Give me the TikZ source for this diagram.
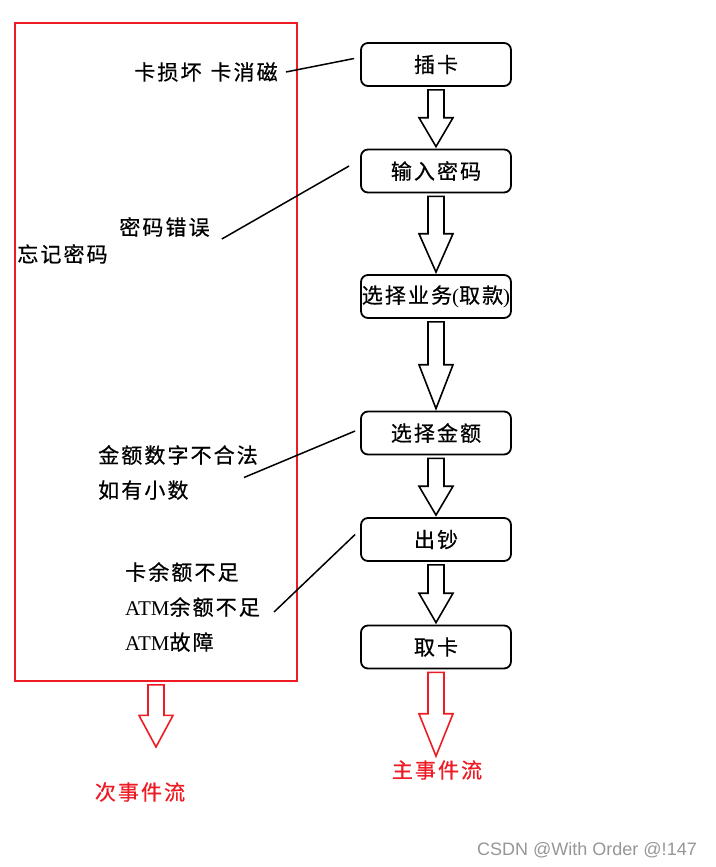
\documentclass[tikz,border=0pt]{standalone}
\usepackage{fontspec}
\setmainfont{Liberation Serif}
\newfontfamily\cjk[LetterSpace=10, FakeBold=0.6]{Noto Sans CJK SC}
\newfontfamily\wmfont{Liberation Sans}
\usetikzlibrary{calc}
\definecolor{flowred}{RGB}{237,28,36}
\definecolor{wmgray}{RGB}{150,150,150}

\begin{document}
\begin{tikzpicture}[x=1pt, y=1pt, node distance=106pt,
  stepbox/.style={rectangle, draw, rounded corners=7pt, line width=1.8pt, minimum width=150pt, minimum height=43pt, font=\cjk\fontsize{21}{24}\selectfont},
  note/.style={inner sep=2pt, font=\cjk\fontsize{21}{35}\selectfont, align=left},
  hollow/.style={line width=1.6pt, line join=miter, to path={let \p1=(\tikztostart), \p2=(\tikztotarget), \n1={(\y1-\y2)/2} in
    (\x1-8pt,\y1-3pt) -- (\x1-8pt,\y1-\n1) -- (\x1-17pt,\y1-\n1) -- (\x1,\y2+2pt) -- (\x1+17pt,\y1-\n1) -- (\x1+8pt,\y1-\n1) -- (\x1+8pt,\y1-3pt) -- cycle}},
  link/.style={line width=1.5pt}]

    \useasboundingbox (0,0) rectangle (715,-867);

    \node[draw=flowred, line width=1.6pt, minimum width=282pt, minimum height=658pt, inner sep=0] (alt) at (156,-352) {};

    \node[stepbox] (ins) at (436,-64.5) {插卡};
    \node[stepbox, below of=ins, node distance=106.5pt] (pin) {输入密码};
    \node[stepbox, below of=pin, node distance=125.5pt] (biz) {\makebox[0pt]{选择业务{\rmfamily(}取款{\rmfamily)}}};
    \node[stepbox, below of=biz, node distance=136.5pt] (amt) {选择金额};
    \node[stepbox, below of=amt, node distance=106.5pt] (cash) {出钞};
    \node[stepbox, below of=cash, node distance=107.5pt] (ret) {取卡};

    \node[note] (damage) at (206,-72) {卡损坏\hspace{9pt}卡消磁};
    \node[note] (wrongpin) at (164.5,-227) {密码错误};
    \node[note] (forgot) at (62.5,-254) {忘记密码};
    \node[note, anchor=west] (badamt) at (96,-472.5) {金额数字不合法\\如有小数};
    \node[note, anchor=west] (nocash) at (123,-607) {卡余额不足\\{\rmfamily ATM}余额不足\\{\rmfamily ATM}故障};

    \node[note, text=flowred] (altlbl) at (140,-792) {次事件流};
    \node[note, text=flowred] (mainlbl) at (437,-770) {主事件流};
    \coordinate (alttip) at (158,-749);

    \node[text=wmgray, font=\wmfont\fontsize{18}{20}\selectfont] (credit) at (587,-850) {CSDN @With Order @!147};

    \draw[hollow] (ins.south) to (pin.north);
    \draw[hollow] (pin.south) to (biz.north);
    \draw[hollow] (biz.south) to (amt.north);
    \draw[hollow] (amt.south) to (cash.north);
    \draw[hollow] (cash.south) to (ret.north);
    \draw[hollow, draw=flowred] (ret.south) to (mainlbl.north);
    \draw[hollow, draw=flowred] (alt.south) to (alttip);

    \draw[link] ([xshift=6pt]damage.east) -- ([xshift=-6pt, yshift=6pt]ins.west);
    \draw[link] ([xshift=10pt]wrongpin.south east) -- ([xshift=-11pt, yshift=5pt]pin.west);
    \draw[link] ([xshift=-16pt, yshift=-5pt]badamt.east) -- ([xshift=-5pt, yshift=2pt]amt.west);
    \draw[link] ([xshift=12pt, yshift=-5pt]nocash.east) -- ([xshift=-5pt, yshift=5pt]cash.west);

  \end{tikzpicture}
\end{document}
